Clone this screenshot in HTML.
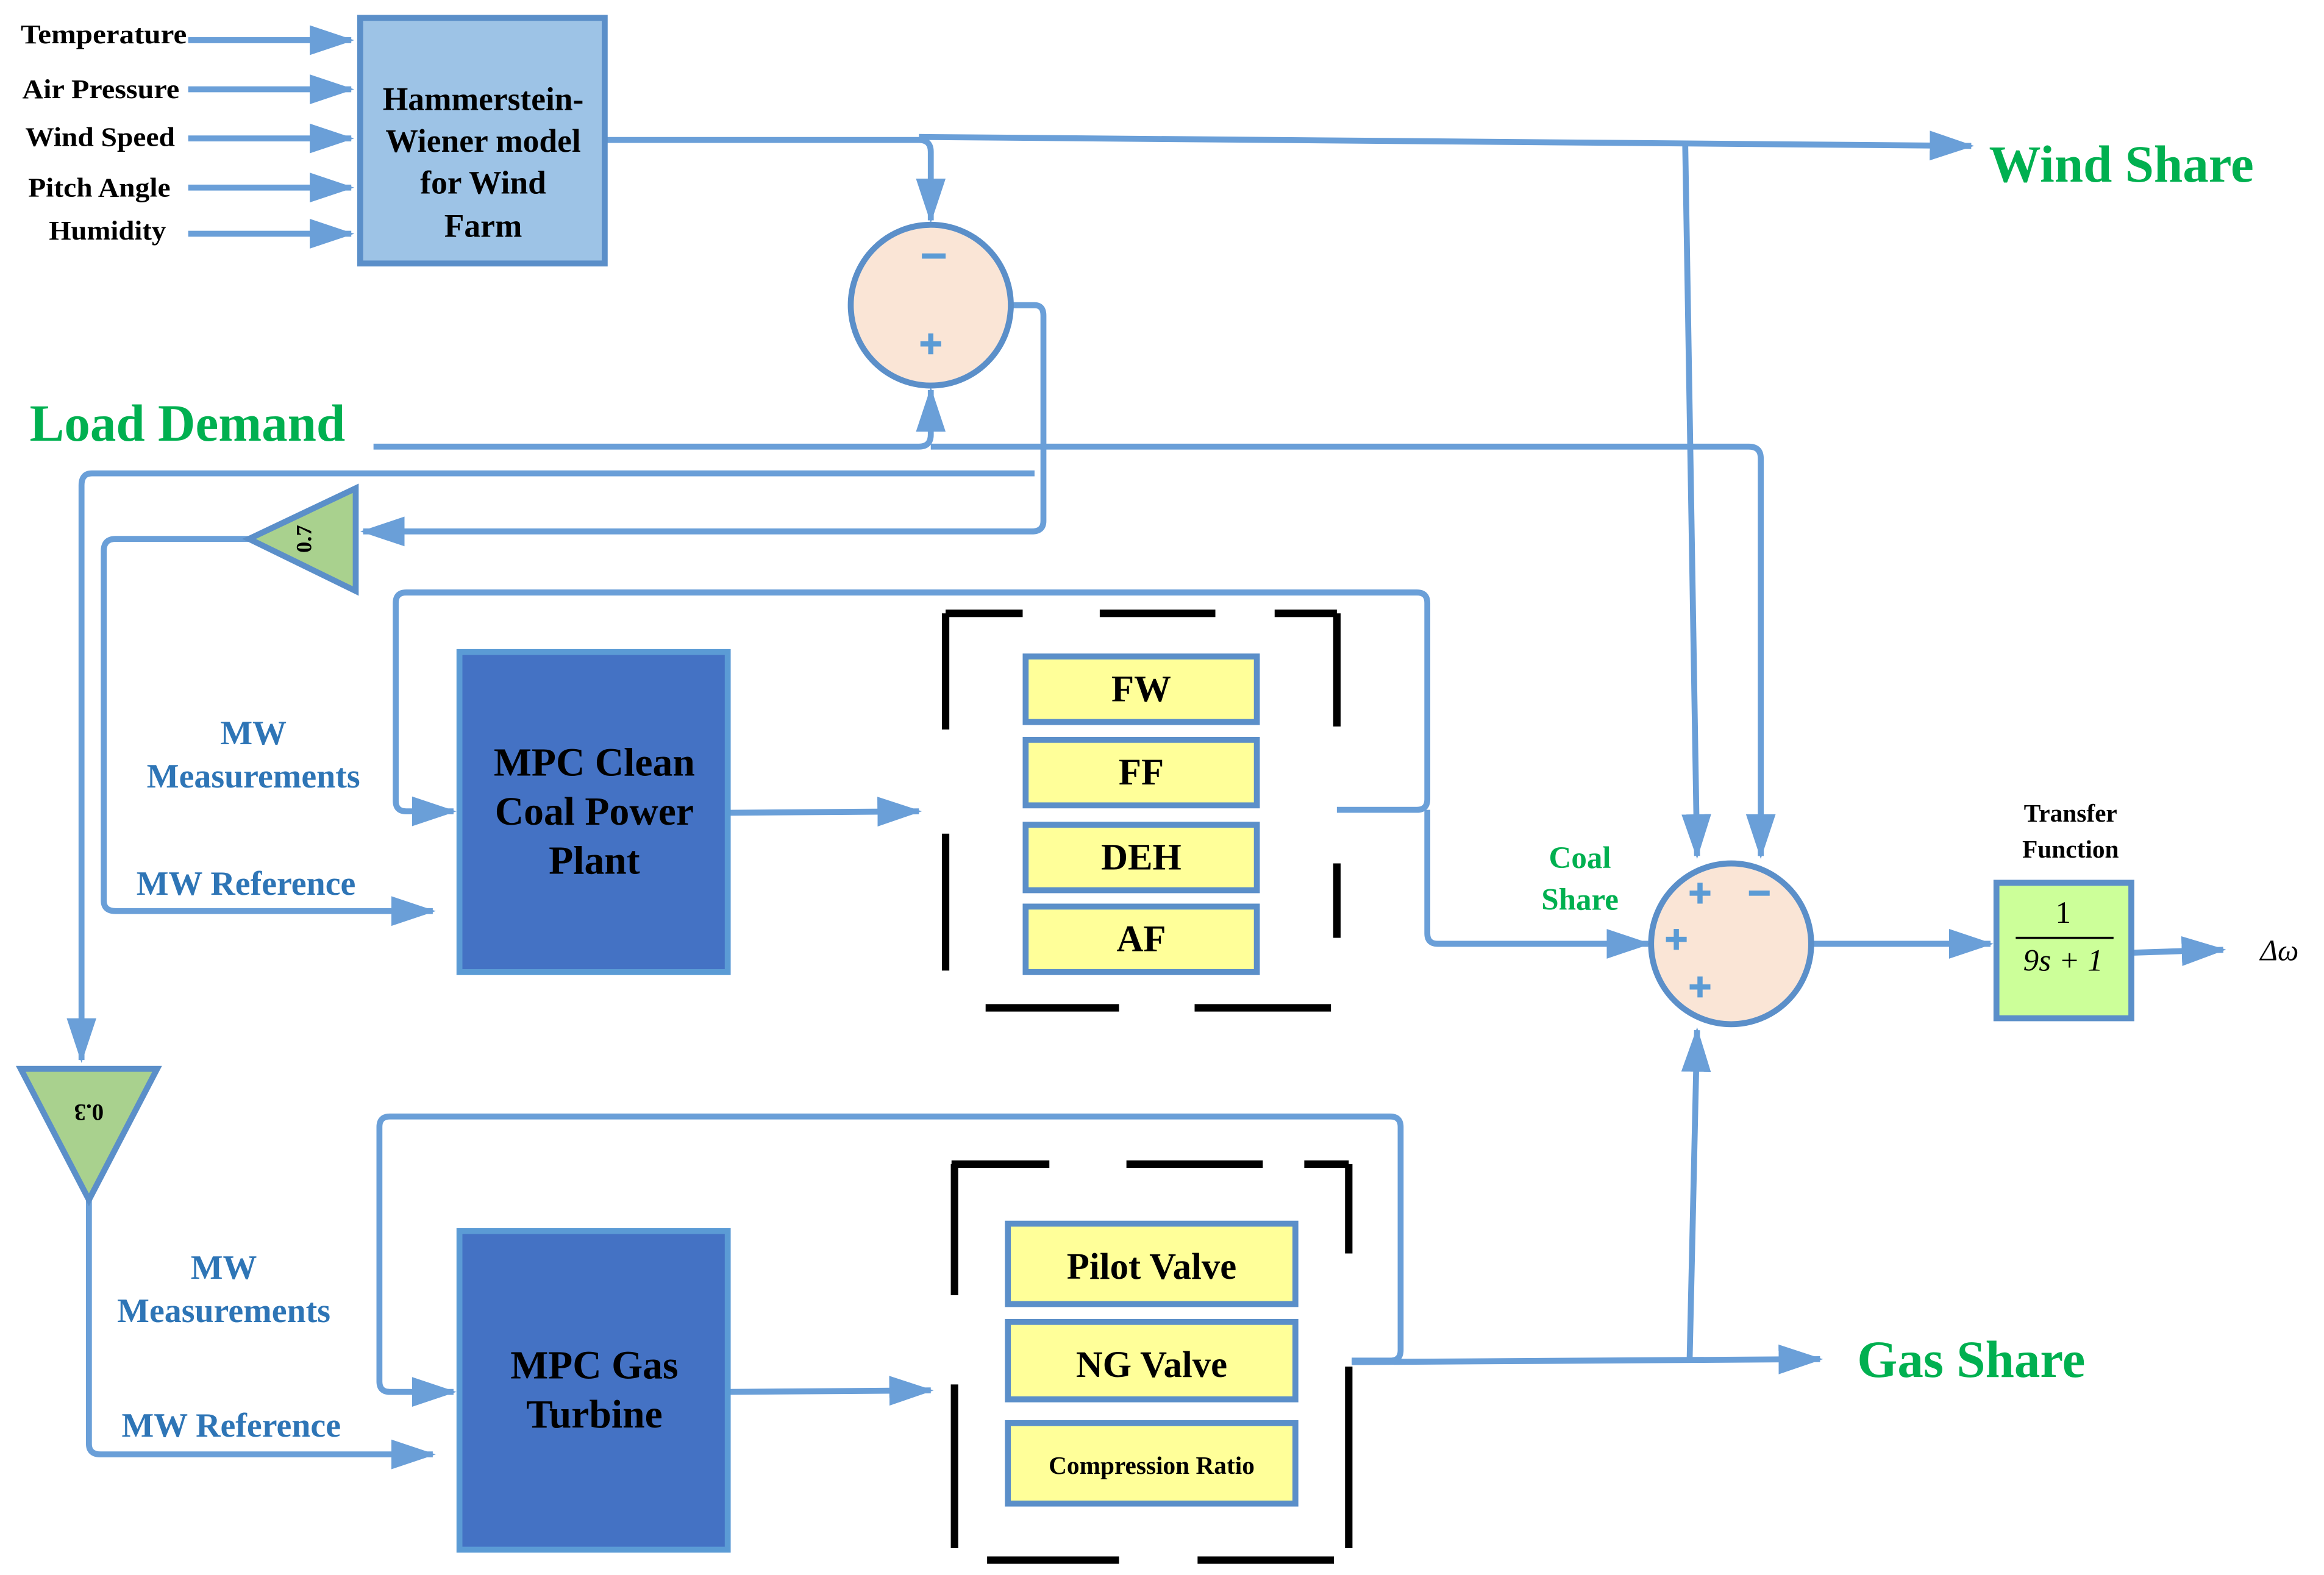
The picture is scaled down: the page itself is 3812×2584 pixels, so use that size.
<!DOCTYPE html>
<html><head><meta charset="utf-8"><style>
html,body{margin:0;padding:0;background:#fff}
svg{display:block}
text{font-family:"Liberation Serif",serif;font-weight:bold}
</style></head><body>
<svg width="3812" height="2584" viewBox="0 0 1568 1058" preserveAspectRatio="none" xmlns="http://www.w3.org/2000/svg">
<defs>
<marker id="a" markerUnits="userSpaceOnUse" markerWidth="30" markerHeight="24" refX="28" refY="12" orient="auto">
<path d="M0,2 L30,12 L0,22 Z" fill="#6a9fd8"/></marker>
</defs>
<g fill="none" stroke="#6a9fd8" stroke-width="4" stroke-linejoin="round">
<path d="M127,27H237" marker-end="url(#a)"/>
<path d="M127,60H237" marker-end="url(#a)"/>
<path d="M127,93H237" marker-end="url(#a)"/>
<path d="M127,126H237" marker-end="url(#a)"/>
<path d="M127,157H237" marker-end="url(#a)"/>
<path d="M408,94H620Q628,94 628,102V148" marker-end="url(#a)"/>
<path d="M620,92L1330,98" marker-end="url(#a)"/>
<path d="M1137,96L1145,575" marker-end="url(#a)"/>
<path d="M252,300H620Q628,300 628,292V262" marker-end="url(#a)"/>
<path d="M683,205H698Q704,205 704,212V350Q704,357 696,357H245" marker-end="url(#a)"/>
<path d="M628,300H1180Q1188,300 1188,308V575" marker-end="url(#a)"/>
<path d="M698,318H62Q55,318 55,326V712" marker-end="url(#a)"/>
<path d="M168,362H78Q70,362 70,370V605Q70,612 78,612H292" marker-end="url(#a)"/>
<path d="M902,544H956Q963,544 963,537V405Q963,398 956,398H274Q267,398 267,405V538Q267,545 274,545H306" marker-end="url(#a)"/>
<path d="M963,544V627Q963,634 970,634H1112" marker-end="url(#a)"/>
<path d="M491,546L620,545" marker-end="url(#a)"/>
<path d="M60,806V970Q60,977 68,977H292" marker-end="url(#a)"/>
<path d="M912,914H938Q945,914 945,907V757Q945,750 938,750H263Q256,750 256,757V928Q256,935 263,935H306" marker-end="url(#a)"/>
<path d="M491,935L628,934" marker-end="url(#a)"/>
<path d="M912,915L1228,913" marker-end="url(#a)"/>
<path d="M1140,913L1145,692" marker-end="url(#a)"/>
<path d="M1222,634H1343" marker-end="url(#a)"/>
<path d="M1438,640L1500,638" marker-end="url(#a)"/>
</g>
<rect x="243" y="12" width="165" height="165" fill="#9dc3e6" stroke="#5b8fc9" stroke-width="4"/>
<circle cx="628" cy="205" r="54" fill="#fae5d6" stroke="#5b8fc9" stroke-width="4"/>
<circle cx="1168" cy="634" r="54" fill="#fae5d6" stroke="#5b8fc9" stroke-width="4"/>
<rect x="310" y="438" width="181" height="215" fill="#4472c4" stroke="#5b9bd5" stroke-width="4"/>
<rect x="310" y="827" width="181" height="214" fill="#4472c4" stroke="#5b9bd5" stroke-width="4"/>
<g fill="#ffff99" stroke="#5b8fc9" stroke-width="4">
<rect x="692" y="441" width="156" height="44"/><rect x="692" y="497" width="156" height="44"/>
<rect x="692" y="554" width="156" height="44"/><rect x="692" y="609" width="156" height="44"/>
<rect x="680" y="822" width="194" height="54"/><rect x="680" y="888" width="194" height="52"/>
<rect x="680" y="956" width="194" height="54"/>
</g>
<rect x="1347" y="593" width="91" height="91" fill="#ccff99" stroke="#5b8fc9" stroke-width="4"/>
<polygon points="168,362 240,328 240,397" fill="#a9d18e" stroke="#5b8fc9" stroke-width="4"/>
<polygon points="14,718 106,718 60,806" fill="#a9d18e" stroke="#5b8fc9" stroke-width="4"/>
<g stroke="#000" stroke-width="5" fill="none">
<path d="M638,412H690M742,412H820M860,412H902M638,412V490M638,560V652M902,412V488M902,580V630M665,677H755M806,677H898"/>
<path d="M642,782H708M760,782H852M880,782H910M644,782V870M644,930V1040M910,782V842M910,918V1040M666,1048H755M808,1048H900"/>
</g>
<g font-size="18" fill="#000">
<text x="14" y="29" textLength="112" lengthAdjust="spacingAndGlyphs">Temperature</text>
<text x="15" y="66" textLength="106" lengthAdjust="spacingAndGlyphs">Air Pressure</text>
<text x="17" y="98" textLength="101" lengthAdjust="spacingAndGlyphs">Wind Speed</text>
<text x="19" y="132" textLength="96" lengthAdjust="spacingAndGlyphs">Pitch Angle</text>
<text x="33" y="161" textLength="79" lengthAdjust="spacingAndGlyphs">Humidity</text>
</g>
<g font-size="22" fill="#000" text-anchor="middle">
<text x="326" y="74">Hammerstein-</text><text x="326" y="102">Wiener model</text>
<text x="326" y="130">for Wind</text><text x="326" y="159">Farm</text>
</g>
<g font-size="27" fill="#000" text-anchor="middle">
<text x="401" y="521">MPC Clean</text><text x="401" y="554">Coal Power</text><text x="401" y="587">Plant</text>
<text x="401" y="926">MPC Gas</text><text x="401" y="959">Turbine</text>
</g>
<g font-size="25" fill="#000" text-anchor="middle">
<text x="770" y="471">FW</text><text x="770" y="527">FF</text><text x="770" y="584">DEH</text><text x="770" y="639">AF</text>
<text x="777" y="859">Pilot Valve</text><text x="777" y="925">NG Valve</text>
<text x="777" y="990" font-size="17">Compression Ratio</text>
</g>
<g fill="#00b050" font-size="35">
<text x="1342" y="122">Wind Share</text><text x="20" y="296">Load Demand</text><text x="1253" y="925">Gas Share</text>
</g>
<g fill="#00b050" font-size="21" text-anchor="middle"><text x="1066" y="583">Coal</text><text x="1066" y="611">Share</text></g>
<g fill="#2e75b6" font-size="23" text-anchor="middle">
<text x="171" y="500">MW</text><text x="171" y="529">Measurements</text><text x="166" y="601">MW Reference</text>
<text x="151" y="859">MW</text><text x="151" y="888">Measurements</text><text x="156" y="965">MW Reference</text>
</g>
<g font-size="17" fill="#000" text-anchor="middle"><text x="1397" y="552">Transfer</text><text x="1397" y="576">Function</text></g>
<text x="1392" y="620" font-size="21" text-anchor="middle" style="font-weight:normal">1</text>
<line x1="1360" y1="630" x2="1426" y2="630" stroke="#000" stroke-width="1.5"/>
<text x="1392" y="652" font-size="21" text-anchor="middle" style="font-weight:normal;font-style:italic">9s + 1</text>
<text x="1525" y="645" font-size="20" style="font-weight:normal;font-style:italic">Δω</text>
<text transform="translate(210,362) rotate(-90)" font-size="15" text-anchor="middle" fill="#000">0.7</text>
<text transform="translate(60,742) rotate(180)" font-size="16" text-anchor="middle" fill="#000">0.3</text>
<g stroke="#5b9bd5" stroke-width="3.5" fill="none">
<path d="M622,172H638"/>
<path d="M621,231H635M628,224V238"/>
<path d="M1140,600H1154M1147,593V607"/>
<path d="M1180,600H1194"/>
<path d="M1124,631H1138M1131,624V638"/>
<path d="M1140,663H1154M1147,656V670"/>
</g>
</svg>
</body></html>
